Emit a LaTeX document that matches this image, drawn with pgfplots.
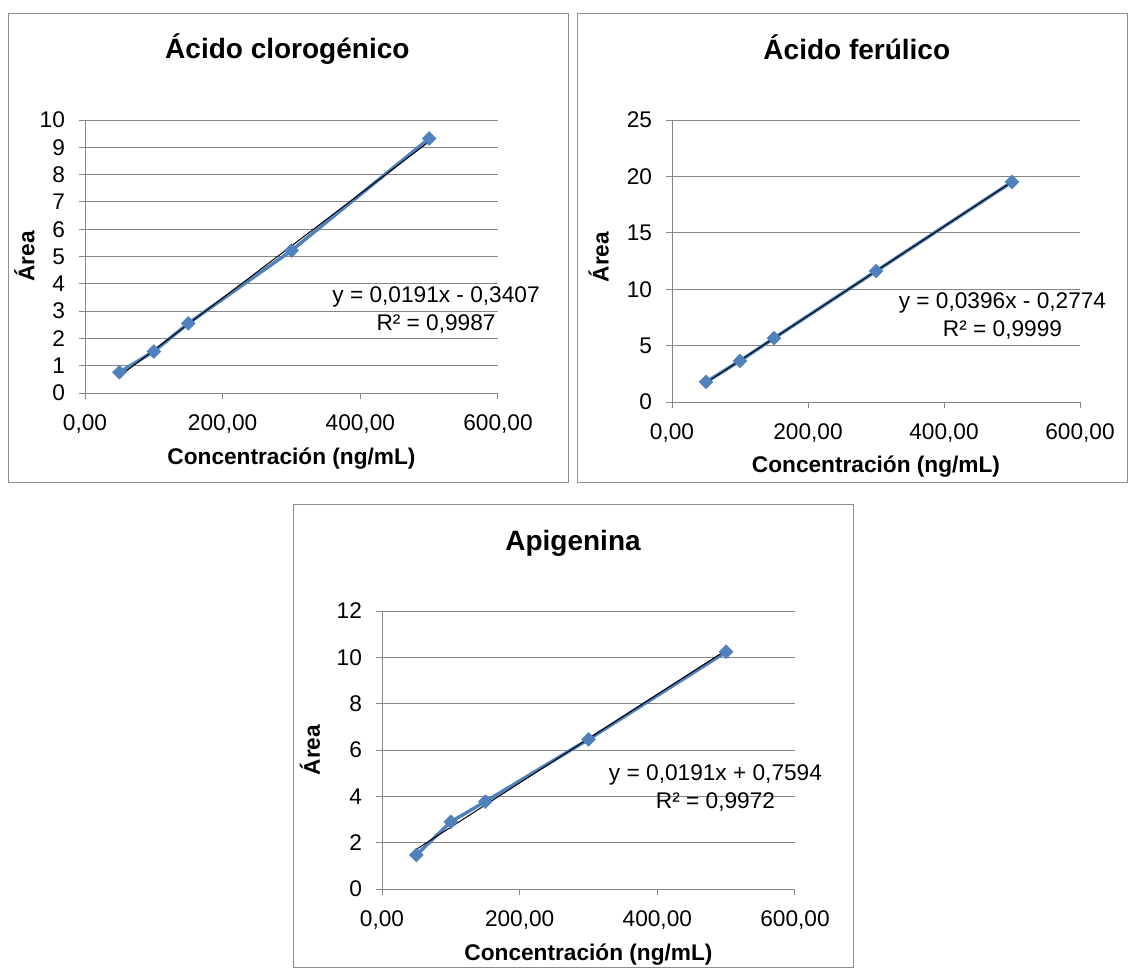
\documentclass[border=0pt]{standalone}
\usepackage{fontspec}
\setmainfont{Liberation Sans}
\usepackage{pgfplots}
\pgfplotsset{compat=1.18}
\usetikzlibrary{calc}

\definecolor{serie}{HTML}{4F81BD}
\definecolor{rejilla}{HTML}{868686}
\definecolor{marco}{HTML}{8C8C8C}

\pgfplotsset{
  /pgf/number format/assume math mode=true,
  curva/.style={
    scale only axis, anchor=south west, clip=false,
    axis x line*=bottom, axis y line*=left,
    axis line style={rejilla, line width=0.75pt},
    ymajorgrids, grid style={rejilla, line width=0.75pt},
    tick align=outside, major tick length=4.5pt,
    tick style={rejilla, line width=0.75pt},
    xmin=0, xmax=600, xtick={0,200,400,600},
    tick label style={font=\fontsize{17}{20}\selectfont},
    x tick label style={yshift=-8pt, /pgf/number format/.cd, fixed, fixed zerofill,
      precision=2, use comma, 1000 sep={}},
    y tick label style={xshift=-7pt},
    label style={font=\bfseries\fontsize{17}{20}\selectfont},
    title style={font=\bfseries\fontsize{21}{25}\selectfont, anchor=center},
    xlabel={Concentración (ng/mL)}, ylabel={Área},
    xlabel style={anchor=center},
    ylabel style={anchor=center},
  },
  datos/.style={serie, line width=2.6pt, mark=square*, mark size=3.7pt,
    mark options={fill=serie, draw=serie, line width=0.3pt, rotate=45}},
  ajuste/.style={black, line width=0.75pt},
}

\begin{document}
\begin{tikzpicture}
\begin{scope}[x=0.75pt, y=-0.75pt]
  \useasboundingbox (0,0) rectangle (1128,968);
  \fill[white] (0,0) rectangle (1128,968);
  \draw[marco, line width=0.75pt] (8,13) rectangle (568,482);
  \draw[marco, line width=0.75pt] (577,13) rectangle (1127,482);
  \draw[marco, line width=0.75pt] (293,504) rectangle (853,967);
  \coordinate (a1) at (85,393);
  \coordinate (a2) at (672,402);
  \coordinate (a3) at (382,889);
\end{scope}

% Ácido clorogénico
\begin{axis}[curva, at={(a1)}, width=309.75pt, height=204.75pt,
  ymin=0, ymax=10, ytick distance=1,
  title={Ácido clorogénico},
  title style={at={($(axis description cs:0.49,1)+(0,47.5pt)$)}},
  xlabel style={at={($(axis description cs:0.5,0)+(0,-49pt)$)}},
  ylabel style={at={($(axis description cs:0,0.5)+(-45.5pt,0)$)}},
]
\addplot[datos] coordinates {(50,0.76) (100,1.52) (150,2.55) (300,5.22) (500,9.32)};
\addplot[ajuste] coordinates {(50,0.6143) (500,9.2093)};
\node[align=center, font=\fontsize{17}{21}\selectfont] at (axis description cs:0.85,0.305)
  {y = 0,0191x - 0,3407\\R² = 0,9987};
\end{axis}

% Ácido ferúlico
\begin{axis}[curva, at={(a2)}, width=306pt, height=211.5pt,
  ymin=0, ymax=25, ytick distance=5,
  title={Ácido ferúlico},
  title style={at={($(axis description cs:0.453,1)+(0,48.5pt)$)}},
  xlabel style={at={($(axis description cs:0.5,0)+(0,-48.5pt)$)}},
  ylabel style={at={($(axis description cs:0,0.514)+(-55pt,0)$)}},
]
\addplot[datos] coordinates {(50,1.78) (100,3.65) (150,5.66) (300,11.6) (500,19.51)};
\addplot[ajuste] coordinates {(50,1.7026) (500,19.5226)};
\node[align=center, font=\fontsize{17}{21}\selectfont] at (axis description cs:0.81,0.305)
  {y = 0,0396x - 0,2774\\R² = 0,9999};
\end{axis}

% Apigenina
\begin{axis}[curva, at={(a3)}, width=309.75pt, height=208.5pt,
  ymin=0, ymax=12, ytick distance=2,
  title={Apigenina},
  title style={at={($(axis description cs:0.4625,1)+(0,45pt)$)}},
  xlabel style={at={($(axis description cs:0.5,0)+(0,-49.5pt)$)}},
  ylabel style={at={($(axis description cs:0,0.5)+(-54pt,0)$)}},
]
\addplot[datos] coordinates {(50,1.47) (100,2.9) (150,3.77) (300,6.46) (500,10.24)};
\addplot[ajuste] coordinates {(50,1.7144) (500,10.3094)};
\node[align=center, font=\fontsize{17}{21}\selectfont] at (axis description cs:0.8075,0.365)
  {y = 0,0191x + 0,7594\\R² = 0,9972};
\end{axis}
\end{tikzpicture}
\end{document}
